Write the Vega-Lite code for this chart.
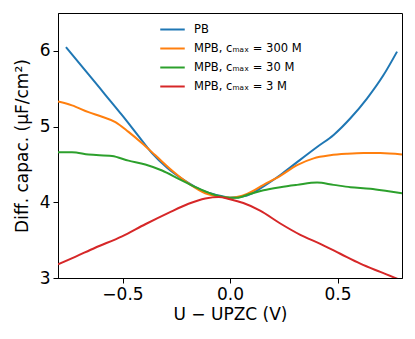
{
  "$schema": "https://vega.github.io/schema/vega-lite/v6.json",
  "width": 344,
  "height": 265,
  "autosize": {"type": "none"},
  "padding": {"left": 58, "top": 13, "right": 13, "bottom": 61},
  "background": "white",
  "config": {
    "font": "DejaVu Sans",
    "view": {"stroke": "black", "strokeWidth": 1},
    "axis": {"grid": false, "domainColor": "black", "tickColor": "black", "labelColor": "black", "titleColor": "black", "labelFont": "DejaVu Sans", "titleFont": "DejaVu Sans", "labelFontSize": 17, "titleFontSize": 17, "titleFontWeight": "normal", "tickSize": 5}
  },
  "data": {"values": [
    {"s": "PB", "x": -0.763, "y": 6.05},
    {"s": "PB", "x": -0.658, "y": 5.69},
    {"s": "PB", "x": -0.58, "y": 5.42},
    {"s": "PB", "x": -0.502, "y": 5.15},
    {"s": "PB", "x": -0.43, "y": 4.89},
    {"s": "PB", "x": -0.363, "y": 4.65},
    {"s": "PB", "x": -0.29, "y": 4.45},
    {"s": "PB", "x": -0.223, "y": 4.31},
    {"s": "PB", "x": -0.115, "y": 4.14},
    {"s": "PB", "x": -0.037, "y": 4.08},
    {"s": "PB", "x": 0.0, "y": 4.06},
    {"s": "PB", "x": 0.079, "y": 4.09},
    {"s": "PB", "x": 0.156, "y": 4.21},
    {"s": "PB", "x": 0.234, "y": 4.36},
    {"s": "PB", "x": 0.312, "y": 4.53},
    {"s": "PB", "x": 0.405, "y": 4.73},
    {"s": "PB", "x": 0.482, "y": 4.89},
    {"s": "PB", "x": 0.56, "y": 5.11},
    {"s": "PB", "x": 0.637, "y": 5.37},
    {"s": "PB", "x": 0.714, "y": 5.68},
    {"s": "PB", "x": 0.777, "y": 5.99},
    {"s": "300", "x": -0.8, "y": 5.33},
    {"s": "300", "x": -0.735, "y": 5.28},
    {"s": "300", "x": -0.658, "y": 5.19},
    {"s": "300", "x": -0.595, "y": 5.13},
    {"s": "300", "x": -0.533, "y": 5.06},
    {"s": "300", "x": -0.472, "y": 4.93},
    {"s": "300", "x": -0.409, "y": 4.78},
    {"s": "300", "x": -0.347, "y": 4.62},
    {"s": "300", "x": -0.27, "y": 4.42},
    {"s": "300", "x": -0.193, "y": 4.25},
    {"s": "300", "x": -0.115, "y": 4.12},
    {"s": "300", "x": -0.037, "y": 4.07},
    {"s": "300", "x": 0.0, "y": 4.06},
    {"s": "300", "x": 0.079, "y": 4.11},
    {"s": "300", "x": 0.156, "y": 4.23},
    {"s": "300", "x": 0.234, "y": 4.35},
    {"s": "300", "x": 0.312, "y": 4.49},
    {"s": "300", "x": 0.389, "y": 4.58},
    {"s": "300", "x": 0.466, "y": 4.62},
    {"s": "300", "x": 0.544, "y": 4.64},
    {"s": "300", "x": 0.621, "y": 4.65},
    {"s": "300", "x": 0.699, "y": 4.65},
    {"s": "300", "x": 0.8, "y": 4.63},
    {"s": "30", "x": -0.8, "y": 4.66},
    {"s": "30", "x": -0.735, "y": 4.66},
    {"s": "30", "x": -0.658, "y": 4.63},
    {"s": "30", "x": -0.549, "y": 4.61},
    {"s": "30", "x": -0.472, "y": 4.55},
    {"s": "30", "x": -0.394, "y": 4.5},
    {"s": "30", "x": -0.316, "y": 4.42},
    {"s": "30", "x": -0.239, "y": 4.31},
    {"s": "30", "x": -0.161, "y": 4.2},
    {"s": "30", "x": -0.084, "y": 4.11},
    {"s": "30", "x": 0.0, "y": 4.06},
    {"s": "30", "x": 0.031, "y": 4.06},
    {"s": "30", "x": 0.093, "y": 4.11},
    {"s": "30", "x": 0.156, "y": 4.16},
    {"s": "30", "x": 0.234, "y": 4.2},
    {"s": "30", "x": 0.312, "y": 4.23},
    {"s": "30", "x": 0.405, "y": 4.26},
    {"s": "30", "x": 0.482, "y": 4.23},
    {"s": "30", "x": 0.56, "y": 4.2},
    {"s": "30", "x": 0.653, "y": 4.18},
    {"s": "30", "x": 0.73, "y": 4.15},
    {"s": "30", "x": 0.8, "y": 4.12},
    {"s": "3", "x": -0.8, "y": 3.18},
    {"s": "3", "x": -0.72, "y": 3.28},
    {"s": "3", "x": -0.627, "y": 3.4},
    {"s": "3", "x": -0.502, "y": 3.55},
    {"s": "3", "x": -0.394, "y": 3.71},
    {"s": "3", "x": -0.286, "y": 3.86},
    {"s": "3", "x": -0.193, "y": 3.98},
    {"s": "3", "x": -0.115, "y": 4.05},
    {"s": "3", "x": -0.053, "y": 4.07},
    {"s": "3", "x": 0.0, "y": 4.04},
    {"s": "3", "x": 0.062, "y": 3.99},
    {"s": "3", "x": 0.14, "y": 3.89},
    {"s": "3", "x": 0.234, "y": 3.72},
    {"s": "3", "x": 0.327, "y": 3.57},
    {"s": "3", "x": 0.42, "y": 3.45},
    {"s": "3", "x": 0.513, "y": 3.32},
    {"s": "3", "x": 0.606, "y": 3.19},
    {"s": "3", "x": 0.699, "y": 3.08},
    {"s": "3", "x": 0.777, "y": 2.99},
    {"s": "3", "x": 0.8, "y": 2.96}
  ]},
  "mark": {"type": "line", "strokeWidth": 2, "interpolate": "monotone", "clip": true},
  "encoding": {
    "x": {"field": "x", "type": "quantitative", "scale": {"domain": [-0.8, 0.8], "nice": false, "zero": false},
      "axis": {"values": [-0.5, 0, 0.5], "format": ".1f", "title": "U − UPZC (V)", "titlePadding": 4, "labelPadding": 3}},
    "y": {"field": "y", "type": "quantitative", "scale": {"domain": [3, 6.5], "nice": false, "zero": false},
      "axis": {"values": [3, 4, 5, 6], "format": "d", "title": "Diff. capac. (μF/cm²)", "titlePadding": 8, "labelPadding": 3}},
    "color": {"field": "s", "type": "nominal",
      "scale": {"domain": ["PB", "300", "30", "3"], "range": ["#1f77b4", "#ff7f0e", "#2ca02c", "#d62728"]},
      "legend": {"title": null, "orient": "none", "legendX": 101, "legendY": 3, "symbolType": "stroke", "symbolSize": 600, "symbolStrokeWidth": 2, "labelFontSize": 11.5, "labelFont": "DejaVu Sans", "labelColor": "black", "rowPadding": -7, "labelOffset": 8,
        "labelExpr": "datum.label == 'PB' ? 'PB' : 'MPB, cₘₐₓ = ' + datum.label + ' M'"}}
  }
}
